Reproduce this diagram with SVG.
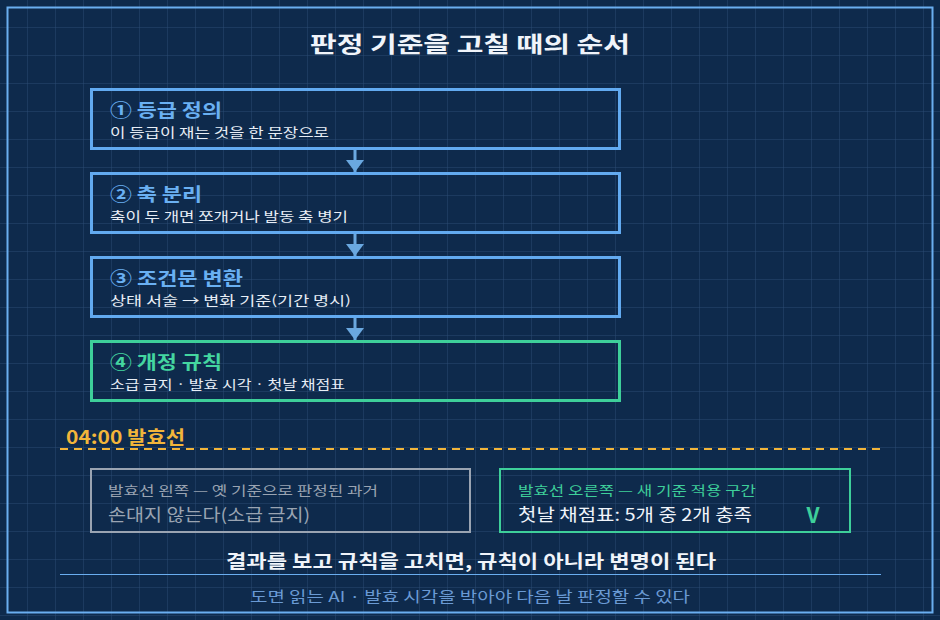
<svg xmlns="http://www.w3.org/2000/svg" width="940" height="620" viewBox="0 0 940 620">
<defs>
<pattern id="grid" width="28" height="28" patternUnits="userSpaceOnUse"><path d="M28 0V28M0 28H28" fill="none" stroke="#2a4a72" stroke-width="1"/></pattern>
<marker id="ah" viewBox="0 0 12 18" refX="12" refY="9" markerWidth="12" markerHeight="18" markerUnits="userSpaceOnUse" orient="auto"><path d="M0 0L12 9L0 18Z" fill="#6aa8e0"/></marker>
<style>
text{font-family:"Noto Sans CJK KR","Noto Sans",sans-serif}
.step{fill:none;stroke:#62aaf0;stroke-width:3}
.t{font-size:18px;font-weight:bold;fill:#6ab0f2}
.s{font-size:13px;fill:#e8eef6}
</style>
</defs>
<rect width="940" height="620" fill="#0e2a4c"/>
<rect width="940" height="620" fill="url(#grid)"/>
<rect x="7.5" y="7.5" width="925" height="605" fill="none" stroke="#6aaef0" stroke-width="2"/>
<text x="310" y="52" font-size="22" font-weight="bold" fill="#f0f4fa" textLength="320" lengthAdjust="spacingAndGlyphs">판정 기준을 고칠 때의 순서</text>
<g id="connectors" stroke="#6aa8e0" stroke-width="3" fill="none">
<line x1="355" y1="150" x2="355" y2="172" marker-end="url(#ah)"/>
<line x1="355" y1="234" x2="355" y2="256" marker-end="url(#ah)"/>
<line x1="355" y1="318" x2="355" y2="340" marker-end="url(#ah)"/>
</g>
<g id="step1"><rect class="step" x="91.5" y="89.5" width="528" height="59"/><text class="t" x="110" y="117" textLength="112" lengthAdjust="spacingAndGlyphs">① 등급 정의</text><text class="s" x="110" y="137" textLength="219" lengthAdjust="spacingAndGlyphs">이 등급이 재는 것을 한 문장으로</text></g>
<g id="step2"><rect class="step" x="91.5" y="173.5" width="528" height="59"/><text class="t" x="110" y="201" textLength="92" lengthAdjust="spacingAndGlyphs">② 축 분리</text><text class="s" x="110" y="221" textLength="238" lengthAdjust="spacingAndGlyphs">축이 두 개면 쪼개거나 발동 축 병기</text></g>
<g id="step3"><rect class="step" x="91.5" y="257.5" width="528" height="59"/><text class="t" x="110" y="285" textLength="133" lengthAdjust="spacingAndGlyphs">③ 조건문 변환</text><text class="s" x="110" y="305" textLength="241" lengthAdjust="spacingAndGlyphs">상태 서술 → 변화 기준(기간 명시)</text></g>
<g id="step4"><rect x="91.5" y="341.5" width="528" height="59" fill="none" stroke="#3ecf9a" stroke-width="3"/><text class="t" x="110" y="369" style="fill:#44d6a0" textLength="112" lengthAdjust="spacingAndGlyphs">④ 개정 규칙</text><text class="s" x="110" y="389" textLength="235" lengthAdjust="spacingAndGlyphs">소급 금지 · 발효 시각 · 첫날 채점표</text></g>
<g id="cutoff"><text x="66" y="444" font-size="18" font-weight="bold" fill="#f2b53a" textLength="119" lengthAdjust="spacingAndGlyphs">04:00 발효선</text><line x1="60" y1="449" x2="886" y2="449" stroke="#f2b53a" stroke-width="2" stroke-dasharray="8 6"/></g>
<g id="left"><rect x="91" y="469" width="379" height="63" fill="none" stroke="#9aa4b2" stroke-width="2"/><text x="108" y="495" font-size="13" fill="#9aa4b2" textLength="270" lengthAdjust="spacingAndGlyphs">발효선 왼쪽 — 옛 기준으로 판정된 과거</text><text x="108" y="521" font-size="17" fill="#9aa4b2" textLength="202" lengthAdjust="spacingAndGlyphs">손대지 않는다(소급 금지)</text></g>
<g id="right"><rect x="500" y="469" width="350" height="63" fill="none" stroke="#3ecf9a" stroke-width="2"/><text x="518" y="495" font-size="13" fill="#3ecf9a" textLength="238" lengthAdjust="spacingAndGlyphs">발효선 오른쪽 — 새 기준 적용 구간</text><text x="518" y="521" font-size="17" fill="#f0f4fa" textLength="234" lengthAdjust="spacingAndGlyphs">첫날 채점표: 5개 중 2개 충족</text><text x="813" y="523" text-anchor="middle" font-size="21" font-weight="bold" fill="#3ecf9a">V</text></g>
<g id="footer"><text x="226" y="568" font-size="18" font-weight="bold" fill="#f0f4fa" textLength="490" lengthAdjust="spacingAndGlyphs">결과를 보고 규칙을 고치면, 규칙이 아니라 변명이 된다</text><line x1="60" y1="574.5" x2="881" y2="574.5" stroke="#6aaef0" stroke-width="1"/><text x="250" y="602" font-size="15" fill="#6a9ad4" textLength="440" lengthAdjust="spacingAndGlyphs">도면 읽는 AI · 발효 시각을 박아야 다음 날 판정할 수 있다</text></g>
</svg>
